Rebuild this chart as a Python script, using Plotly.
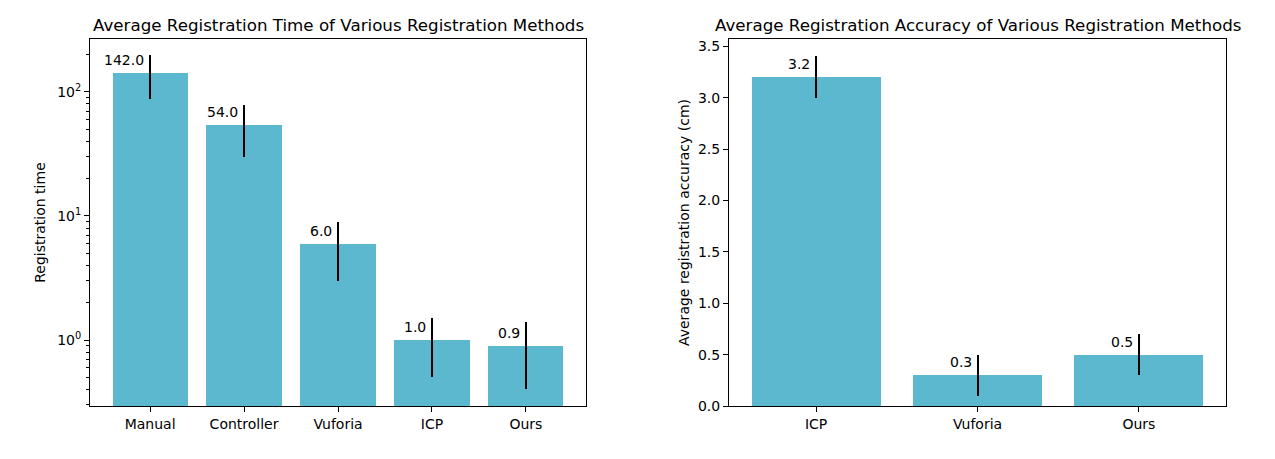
import math
import plotly.graph_objects as go

# ---- data ----
time_methods = ["Manual", "Controller", "Vuforia", "ICP", "Ours"]
time_values = [142.0, 54.0, 6.0, 1.0, 0.9]
time_errors = [55.0, 24.0, 3.0, 0.5, 0.5]

acc_methods = ["ICP", "Vuforia", "Ours"]
acc_values = [3.2, 0.3, 0.5]
acc_errors = [0.2, 0.2, 0.2]

left_title = "Average Registration Time of Various Registration Methods"
right_title = "Average Registration Accuracy of Various Registration Methods"
left_ylabel = "Registration time"
right_ylabel = "Average registration accuracy (cm)"

BAR = "#5bb8cf"
FONT = "DejaVu Sans"
OFF = 8  # browser default body margin
W, H = 1275 - OFF, 459 - OFF

fig = go.Figure()

fig.add_trace(go.Bar(
    x=list(range(len(time_methods))), y=time_values, width=0.8,
    marker=dict(color=BAR, line=dict(width=0)),
    error_y=dict(type="data", array=time_errors, visible=True,
                 color="black", thickness=2, width=0),
    xaxis="x", yaxis="y", showlegend=False,
))
fig.add_trace(go.Bar(
    x=list(range(len(acc_methods))), y=acc_values, width=0.8,
    marker=dict(color=BAR, line=dict(width=0)),
    error_y=dict(type="data", array=acc_errors, visible=True,
                 color="black", thickness=2, width=0),
    xaxis="x2", yaxis="y2", showlegend=False,
))

# axes geometry (pixels from the reference, in window coordinates)
lx0, lx1 = 90, 586
rx0, rx1 = 729, 1226
ytop, ybot = 39, 406
ML, MT = lx0 - OFF, ytop - OFF
MR = W - (rx1 - OFF)
MB = H - (ybot - OFF)
PW = W - ML - MR

TS = 14
tickfont = dict(family=FONT, size=TS, color="black")
common = dict(showline=True, linecolor="black", linewidth=1, mirror=True,
              ticks="outside", ticklen=5, tickcolor="black", tickwidth=1,
              showgrid=False, zeroline=False, tickfont=tickfont,
              automargin=False)

major = [1, 10, 100]
minor_vals = []
for dec in [0.1, 1, 10, 100]:
    for k in range(2, 10):
        v = dec * k
        if 0.29 < v < 270:
            minor_vals.append(v)

n1 = len(time_methods)
n2 = len(acc_methods)
fig.update_layout(
    width=W, height=H,
    margin=dict(l=ML, r=MR, t=MT, b=MB, autoexpand=False),
    paper_bgcolor="white", plot_bgcolor="white",
    font=dict(family=FONT, size=TS, color="black"),
    bargap=0,
    xaxis=dict(domain=[0, (lx1 - lx0) / PW], anchor="y",
               range=[-0.64, n1 - 1 + 0.64],
               tickmode="array", tickvals=list(range(n1)), ticktext=time_methods,
               **common),
    yaxis=dict(domain=[0, 1], anchor="x", type="log",
               range=[math.log10(0.294), math.log10(267)],
               tickmode="array", tickvals=major,
               ticktext=["10<sup>0</sup>", "10<sup>1</sup>", "10<sup>2</sup>"],
               minor=dict(ticks="outside", ticklen=3, tickcolor="black",
                          tickwidth=1, tickmode="array", tickvals=minor_vals,
                          showgrid=False),
               title=dict(text=left_ylabel, font=dict(family=FONT, size=TS),
                          standoff=8),
               **common),
    xaxis2=dict(domain=[(rx0 - lx0) / PW, 1], anchor="y2",
                range=[-0.54, n2 - 1 + 0.54],
                tickmode="array", tickvals=list(range(n2)), ticktext=acc_methods,
                **common),
    yaxis2=dict(domain=[0, 1], anchor="x2",
                range=[0, 3.57],
                tickmode="array", tickvals=[0, 0.5, 1, 1.5, 2, 2.5, 3, 3.5],
                ticktext=["0.0", "0.5", "1.0", "1.5", "2.0", "2.5", "3.0", "3.5"],
                title=dict(text=right_ylabel, font=dict(family=FONT, size=TS),
                           standoff=5),
                **common),
)

annotations = []
for i, v in enumerate(time_values):
    annotations.append(dict(
        x=i, y=math.log10(v), xref="x", yref="y",
        text=f"{v:.1f}", showarrow=False, xanchor="right", yanchor="bottom",
        xshift=-4, yshift=3, font=dict(family=FONT, size=TS, color="black")))
for i, v in enumerate(acc_values):
    annotations.append(dict(
        x=i, y=v, xref="x2", yref="y2",
        text=f"{v:.1f}", showarrow=False, xanchor="right", yanchor="bottom",
        xshift=-4, yshift=3, font=dict(family=FONT, size=TS, color="black")))

# titles
for text, x0, x1 in [(left_title, lx0, lx1), (right_title, rx0, rx1)]:
    annotations.append(dict(
        x=((x0 + x1) / 2 - lx0) / PW, y=1, xref="paper", yref="paper",
        text=text, showarrow=False, xanchor="center", yanchor="bottom",
        yshift=2, font=dict(family=FONT, size=16.7, color="black")))

fig.update_layout(annotations=annotations)
fig.write_html("out.html")
